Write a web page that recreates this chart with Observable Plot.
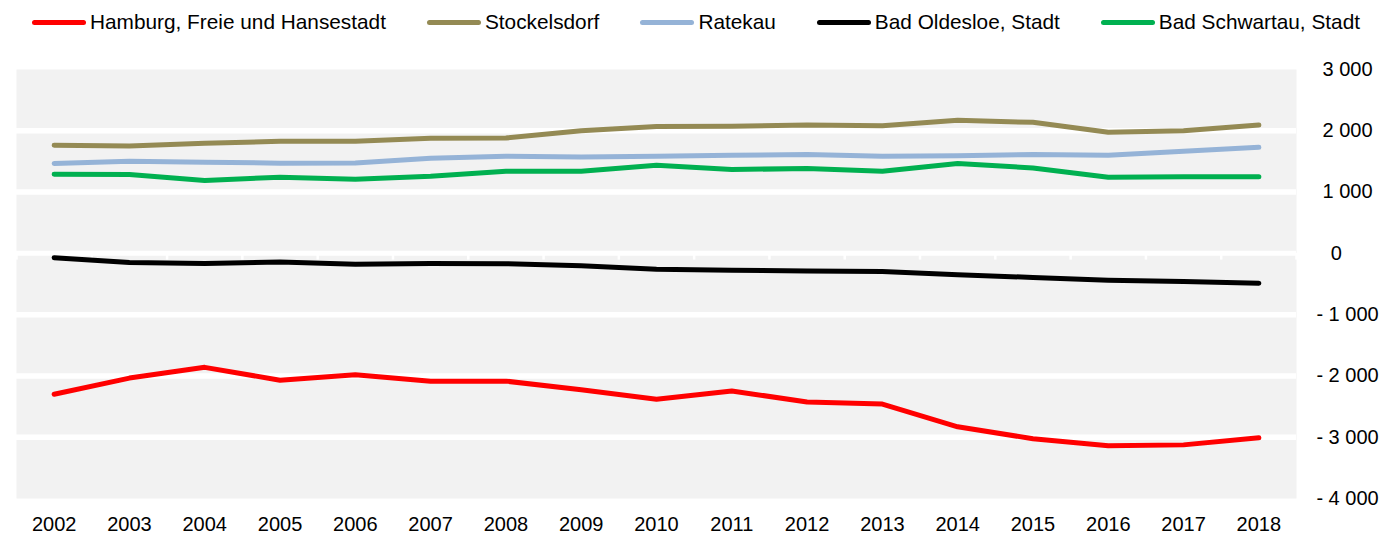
<!DOCTYPE html>
<html>
<head>
<meta charset="utf-8">
<script src="https://cdn.jsdelivr.net/npm/d3@7"></script>
<script src="https://cdn.jsdelivr.net/npm/@observablehq/plot@0.6"></script>
<style>
  html, body { margin: 0; padding: 0; background: #fff; }
  body { width: 1394px; height: 535px; overflow: hidden; position: relative; font-family: "Liberation Sans", Arial, sans-serif; }
  #legend { position: absolute; left: 0; top: 0; z-index: 2; height: 44px; display: flex; align-items: center; padding-left: 32px; gap: 41px; font-size: 20.8px; color: #000; }
  .item { display: flex; align-items: center; white-space: nowrap; }
  .sw { display: inline-block; width: 54px; height: 5px; border-radius: 3px; margin-right: 4px; }
  #chart { position: absolute; left: 0; top: 0; }
  #chart svg { display: block; }
</style>
</head>
<body>
<div id="chart"></div>
<div id="legend"></div>
<script>
const years = [2002, 2003, 2004, 2005, 2006, 2007, 2008, 2009, 2010, 2011, 2012, 2013, 2014, 2015, 2016, 2017, 2018];
const seriesNames = ["Hamburg, Freie und Hansestadt", "Stockelsdorf", "Ratekau", "Bad Oldesloe, Stadt", "Bad Schwartau, Stadt"];
const seriesColors = ["#ff0000", "#948a54", "#95b3d7", "#000000", "#00b050"];
const hamburg      = [-2300, -2035, -1860, -2070, -1980, -2085, -2085, -2225, -2380, -2245, -2425, -2460, -2830, -3025, -3140, -3125, -3010];
const stockelsdorf = [1765, 1752, 1796, 1828, 1828, 1878, 1882, 2002, 2068, 2072, 2094, 2083, 2170, 2138, 1975, 2002, 2094];
const ratekau      = [1466, 1503, 1488, 1472, 1476, 1552, 1584, 1574, 1584, 1600, 1612, 1584, 1592, 1612, 1600, 1665, 1730];
const oldesloe     = [-70, -150, -166, -143, -176, -166, -168, -203, -258, -274, -286, -297, -350, -393, -437, -460, -486];
const schwartau    = [1292, 1287, 1190, 1243, 1210, 1259, 1340, 1340, 1438, 1368, 1384, 1340, 1465, 1394, 1243, 1248, 1248];
const yTicks = [3000, 2000, 1000, 0, -1000, -2000, -3000, -4000];
const gridValues = [2000, 1000, -1000, -2000, -3000];

const seriesValues = [hamburg, stockelsdorf, ratekau, oldesloe, schwartau];
const data = [];
seriesNames.forEach((name, i) => {
  years.forEach((yr, j) => data.push({series: name, year: yr, value: seriesValues[i][j]}));
});
const boundaries = [...years.map(y => y - 0.5), years[years.length - 1] + 0.5];

// legend
const legend = document.getElementById("legend");
seriesNames.forEach((name, i) => {
  const it = document.createElement("div");
  it.className = "item";
  const sw = document.createElement("span");
  sw.className = "sw";
  sw.style.background = seriesColors[i];
  const tx = document.createElement("span");
  tx.textContent = name;
  it.appendChild(sw); it.appendChild(tx);
  legend.appendChild(it);
});

const group = d3.format(",");
const fmt = d => d === 0 ? "0\u2007\u2007" : (d < 0 ? "- " : "") + group(Math.abs(d)).replace(/,/g, " ");

const chart = Plot.plot({
  width: 1394,
  height: 535,
  marginLeft: 16,
  marginRight: 98,
  marginTop: 69,
  marginBottom: 37,
  style: {fontFamily: "'Liberation Sans', Arial, sans-serif", fontSize: "20px", color: "#000", background: "transparent"},
  x: {type: "linear", domain: [years[0] - 0.5, years[years.length - 1] + 0.5], label: null},
  y: {domain: [-4000, 3000], label: null},
  color: {domain: seriesNames, range: seriesColors},
  marks: [
    Plot.frame({fill: "#f2f2f2", stroke: null}),
    Plot.ruleY(gridValues, {stroke: "#ffffff", strokeWidth: 5.5}),
    Plot.ruleY([0], {stroke: "#ffffff", strokeWidth: 5}),
    Plot.ruleX(boundaries, {x: d => d, y1: 0, y2: -110, stroke: "#ffffff", strokeWidth: 2.5}),
    Plot.axisX(years, {tickSize: 0, tickPadding: 18, tickFormat: d => String(d), fontSize: 20}),
    Plot.axisY(yTicks, {anchor: "right", tickSize: 0, tickPadding: 51, textAnchor: "middle", tickFormat: fmt, fontSize: 20}),
    Plot.line(data, {x: "year", y: "value", z: "series", stroke: "series", strokeWidth: 5, strokeLinecap: "round", strokeLinejoin: "round"})
  ]
});
document.getElementById("chart").appendChild(chart);
</script>
</body>
</html>
